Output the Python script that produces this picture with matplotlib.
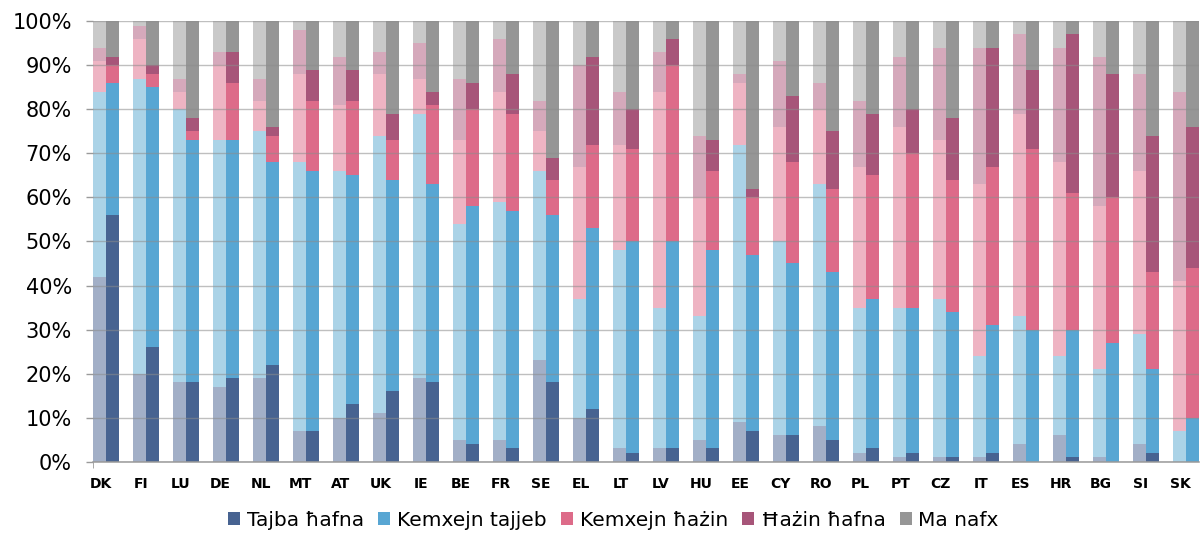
import numpy as np
import matplotlib
matplotlib.use('Agg')
import matplotlib.pyplot as plt
from matplotlib.patches import Patch

countries = ['DK', 'FI', 'LU', 'DE', 'NL', 'MT', 'AT', 'UK', 'IE', 'BE', 'FR', 'SE', 'EL', 'LT',
             'LV', 'HU', 'EE', 'CY', 'RO', 'PL', 'PT', 'CZ', 'IT', 'ES', 'HR', 'BG', 'SI', 'SK']
labels = ['Tajba ħafna', 'Kemxejn tajjeb', 'Kemxejn ħażin', 'Ħażin ħafna', 'Ma nafx']

# first (faded) bar of each country
old_very_good = [42, 20, 18, 17, 19, 7, 10, 11, 19, 5, 5, 23, 10, 3, 3, 5, 9, 6, 8, 2, 1, 1, 1, 4, 6, 1, 4, 0]
old_good = [42, 67, 62, 56, 56, 61, 56, 63, 60, 49, 54, 43, 27, 45, 32, 28, 63, 44, 55, 33, 34, 36, 23, 29, 18, 20, 25, 7]
old_bad = [7, 9, 4, 17, 7, 20, 15, 14, 8, 19, 25, 9, 30, 24, 49, 27, 14, 26, 17, 32, 41, 36, 39, 46, 44, 37, 37, 34]
old_very_bad = [3, 3, 3, 3, 5, 10, 11, 5, 8, 14, 12, 7, 23, 12, 9, 14, 2, 15, 6, 15, 16, 21, 31, 18, 26, 34, 22, 43]
old_dont_know = [6, 1, 13, 7, 13, 2, 8, 7, 5, 13, 4, 18, 10, 16, 7, 26, 12, 9, 14, 18, 8, 6, 6, 3, 6, 8, 12, 16]

# second (solid) bar of each country
new_very_good = [56, 26, 18, 19, 22, 7, 13, 16, 18, 4, 3, 18, 12, 2, 3, 3, 7, 6, 5, 3, 2, 1, 2, 0, 1, 0, 2, 0]
new_good = [30, 59, 55, 54, 46, 59, 52, 48, 45, 54, 54, 38, 41, 48, 47, 45, 40, 39, 38, 34, 33, 33, 29, 30, 29, 27, 19, 10]
new_bad = [4, 3, 2, 13, 6, 16, 17, 9, 18, 22, 22, 8, 19, 21, 40, 18, 13, 23, 19, 28, 35, 30, 36, 41, 31, 33, 22, 34]
new_very_bad = [2, 2, 3, 7, 2, 7, 7, 6, 3, 6, 9, 5, 20, 9, 6, 7, 2, 15, 13, 14, 10, 14, 27, 18, 36, 28, 31, 32]
new_dont_know = [8, 10, 22, 7, 24, 11, 11, 21, 16, 14, 12, 31, 8, 20, 4, 27, 38, 17, 25, 21, 20, 22, 6, 11, 3, 12, 26, 24]

dark_colors = ['#476391', '#58A6D3', '#DD6B89', '#A75579', '#969696']
light_colors = ['#A2AFC7', '#ABD3E7', '#EEB4C3', '#D5A9BB', '#C9C9C9']

old = [old_very_good, old_good, old_bad, old_very_bad, old_dont_know]
new = [new_very_good, new_good, new_bad, new_very_bad, new_dont_know]

fig = plt.figure(figsize=(12.03, 5.33), dpi=100)
ax = fig.add_axes([0.0771, 0.1338, 0.9199, 0.8263])

x = np.arange(len(countries)) * 3
bottom_old = np.zeros(len(countries))
bottom_new = np.zeros(len(countries))
for vals_old, vals_new, c_light, c_dark in zip(old, new, light_colors, dark_colors):
    ax.bar(x, vals_old, width=1.0, bottom=bottom_old, color=c_light, zorder=2)
    ax.bar(x + 1, vals_new, width=1.0, bottom=bottom_new, color=c_dark, zorder=2)
    bottom_old += np.array(vals_old)
    bottom_new += np.array(vals_new)

ax.set_xlim(-0.5, x[-1] + 1.5)
ax.set_ylim(0, 100)
ax.set_yticks(range(0, 101, 10))
ax.set_yticklabels([f'{v}%' for v in range(0, 101, 10)], fontsize=15)
ax.set_xticks(x + 0.1)
ax.set_xticklabels(countries, fontsize=10, fontweight='bold')
ax.tick_params(axis='x', length=0, pad=11)
ax.tick_params(axis='y', length=5, width=1, color='#9A9A9A', pad=10)
ax.set_xticks([-0.5], minor=True)
ax.tick_params(axis='x', which='minor', length=4, color='#9A9A9A')

ax.set_axisbelow(False)
ax.grid(axis='y', color='#8C8C8C', linewidth=1.0, alpha=0.55, zorder=3)
for side in ['top', 'right', 'left']:
    ax.spines[side].set_visible(False)
ax.spines['bottom'].set_color('#9A9A9A')
ax.spines['bottom'].set_linewidth(1.1)
ax.spines['bottom'].set_zorder(4)

handles = [Patch(facecolor=c) for c in dark_colors]
fig.legend(handles, labels, loc='center', bbox_to_anchor=(0.51, 0.024), ncol=5,
           frameon=False, fontsize=14.5, handlelength=0.6, handleheight=0.65,
           handletextpad=0.33, columnspacing=0.7, borderaxespad=0, borderpad=0)

fig.savefig('out.png', dpi=100)
